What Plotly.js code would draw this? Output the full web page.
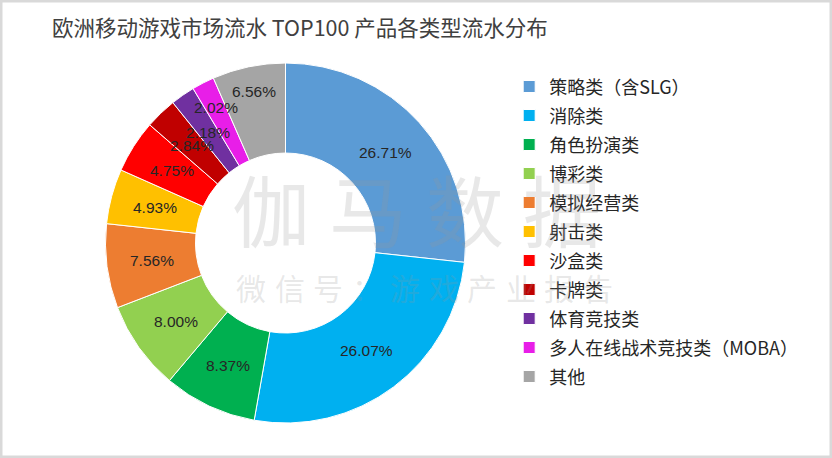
<!DOCTYPE html>
<html>
<head>
<meta charset="utf-8">
<script src="https://cdn.plot.ly/plotly-3.0.1.min.js"></script>
<style>
html,body{margin:0;padding:0;background:#fff;}
#chart{width:832px;height:458px;}
</style>
</head>
<body>
<div id="chart"></div>
<script>
// ---- data ----
var categories = ['策略类（含SLG）','消除类','角色扮演类','博彩类','模拟经营类','射击类','沙盒类','卡牌类','体育竞技类','多人在线战术竞技类（MOBA）','其他'];
var shares = [26.71, 26.07, 8.37, 8.00, 7.56, 4.93, 4.75, 2.84, 2.18, 2.02, 6.56];
var chartTitle = '欧洲移动游戏市场流水 TOP100 产品各类型流水分布';
var watermarkMain = '伽马数据';
var watermarkSub = '微信号：游戏产业报告';

// ---- styles ----
var W = 832, H = 458;
var colors = ['#5B9BD5','#00B0F0','#00B050','#92D050','#ED7D31','#FFC000','#FF0000','#C00000','#7030A0','#E81EE8','#A5A5A5'];
var labelRadius = [0.75,0.75,0.75,0.75,0.75,0.75,0.75,0.75,0.75,0.845,0.86];
var pieDomain = {x:[0.1268,0.5595], y:[0.0764,0.8624]};
var wmColor = 'rgba(150,150,150,0.22)';
var wmFont = 'Noto Sans CJK SC, sans-serif';

// label positions derived from the data (mid-angle of each slice) and the pie's geometry
var total = shares.reduce(function(a,b){return a+b;},0);
var cxPx = (pieDomain.x[0]+pieDomain.x[1])/2*W;
var cyPx = (pieDomain.y[0]+pieDomain.y[1])/2*H;
var Rpx = Math.min((pieDomain.x[1]-pieDomain.x[0])*W, (pieDomain.y[1]-pieDomain.y[0])*H)/2;
var cum = 0, labelAnns = [];
shares.forEach(function(v,i){
  var a = (cum + v/2)/total*2*Math.PI; cum += v;
  var r = labelRadius[i]*Rpx;
  labelAnns.push({
    xref:'paper', yref:'paper', xanchor:'center', yanchor:'middle',
    x:(cxPx + r*Math.sin(a))/W, y:(cyPx + r*Math.cos(a))/H,
    text: v.toFixed(2)+'%', showarrow:false,
    font:{family:'Liberation Sans, Arial, sans-serif', size:15.5, color:'#262626'}
  });
});

// watermark, one character at a time (letter-spaced)
function wmLine(str, x0, pitch, yPx, size){
  return str.split('').map(function(ch, i){
    return {xref:'paper', yref:'paper', xanchor:'center', yanchor:'middle',
            x:(x0 + i*pitch)/W, y:1-yPx/H, showarrow:false,
            text:ch, font:{family:wmFont, size:size, color:wmColor}};
  });
}
var wmAnns = wmLine(watermarkMain, 271, 97, 208, 78).concat(wmLine(watermarkSub, 251, 38.5, 287, 30));

var pie = {
  type:'pie',
  labels: categories.map(function(c){ return '<span style="font-size:18px">'+c+'</span>'; }),
  values: shares,
  sort:false,
  direction:'clockwise',
  rotation:0,
  hole:0.5,
  textinfo:'none',
  marker:{colors:colors, line:{color:'#ffffff', width:1}},
  domain: pieDomain,
  hoverinfo:'label+percent'
};

var layout = {
  width:W, height:H,
  margin:{l:0,r:0,t:0,b:0},
  paper_bgcolor:'#ffffff',
  font:{family:'Noto Sans CJK SC, sans-serif', color:'#262626'},
  title:{
    text: chartTitle,
    x: 52/W, xanchor:'left', xref:'paper',
    y: 1-28/H, yanchor:'middle',
    font:{family:'Noto Sans CJK SC, sans-serif', size:21.5, color:'#404040'}
  },
  legend:{
    x: 0.612, xanchor:'left',
    y: 1-67/H, yanchor:'top',
    font:{family:'Noto Sans CJK SC, sans-serif', size:20, color:'#262626'},
    bgcolor:'rgba(0,0,0,0)',
    traceorder:'normal'
  },
  annotations: wmAnns.concat(labelAnns),
  shapes:[
    {type:'rect', xref:'paper', yref:'paper', x0:0, x1:1, y0:0, y1:1,
     line:{color:'#d9d9d9', width:5}, fillcolor:'rgba(0,0,0,0)', layer:'above'}
  ]
};

Plotly.newPlot('chart', [pie], layout, {displayModeBar:false, staticPlot:true});
</script>
</body>
</html>
